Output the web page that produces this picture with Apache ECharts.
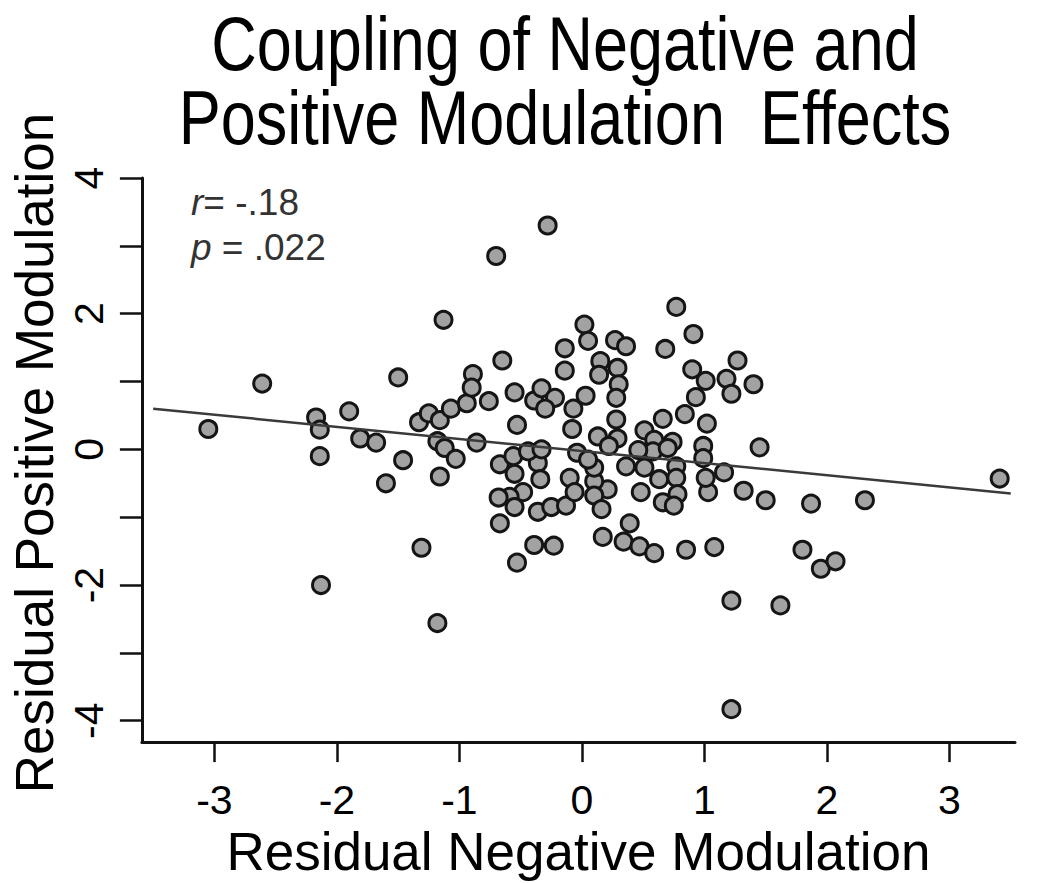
<!DOCTYPE html>
<html><head><meta charset="utf-8">
<script src="https://cdn.jsdelivr.net/npm/echarts@6/dist/echarts.min.js"></script>
<style>html,body{margin:0;padding:0;background:#fff}#c{width:1050px;height:883px}</style>
</head><body><div id="c"></div>
<script>
// Residual Negative Modulation (x) and Residual Positive Modulation (y)
const negMod = [
 -3.05,-2.61,-2.17,-2.14,-2.14,-2.13,-1.90,-1.81,-1.68,-1.60,
 -1.50,-1.46,-1.33,-1.31,-1.25,-1.18,-1.16,-1.16,-1.18,-1.13,
 -1.12,-1.03,-1.07,-0.94,-0.89,-0.90,-0.86,-0.76,-0.70,-0.65,
 -0.55,-0.53,-0.67,-0.56,-0.55,-0.48,-0.59,-0.68,-0.55,-0.67,
 -0.53,-0.39,-0.23,-0.36,-0.34,-0.36,-0.25,-0.13,-0.10,-0.06,
 -0.39,-0.33,-0.22,-0.30,-0.28,-0.14,-0.14,-0.07,-0.08,0.02,
 0.05,-0.04,-0.44,-0.33,0.77,0.91,0.68,0.27,0.36,0.15,
 0.14,0.29,0.30,0.28,0.03,0.90,1.01,1.18,1.27,1.40,
 1.22,0.93,0.84,0.66,1.02,0.28,0.13,0.29,0.51,0.59,
 0.74,1.45,0.99,1.16,1.32,1.50,1.03,1.01,0.99,0.77,
 0.77,0.78,0.66,0.75,0.63,0.51,0.58,0.70,0.48,0.36,
 0.21,0.10,0.10,0.16,0.10,0.39,0.17,0.34,0.47,0.59,
 0.85,1.08,1.22,1.62,1.87,2.31,3.41,1.80,1.95,2.07,
 1.22,0.05,0.46,0.22
];
const posMod = [
 0.30,0.97,0.47,0.29,-0.10,-2.00,0.56,0.16,0.10,-0.50,
 1.06,-0.16,0.40,-1.45,0.53,0.12,0.43,-0.40,-2.56,1.91,
 0.02,-0.14,0.60,0.68,1.11,0.91,0.10,0.71,2.85,1.31,
 0.84,0.36,-0.22,-0.10,-0.36,-0.63,-0.70,-0.71,-0.85,-1.09,
 -1.67,-1.41,-1.42,-0.20,-0.44,-0.92,-0.85,-0.83,-0.42,-0.63,
 0.72,0.90,0.76,0.60,3.30,1.49,1.16,0.60,0.30,1.84,
 1.60,-0.05,-0.03,0.00,2.10,1.70,1.48,1.61,1.52,1.30,
 1.10,1.20,0.96,0.76,0.79,1.18,1.01,1.04,1.31,0.96,
 0.82,0.77,0.52,0.45,0.38,0.44,0.19,0.16,0.28,0.14,
 0.11,0.03,0.05,-0.34,-0.61,-0.75,-0.63,-0.42,-0.13,-0.25,
 -0.42,-0.66,-0.78,-0.83,-0.44,-0.27,-0.03,0.02,-0.63,-0.25,
 -0.59,-0.47,-0.68,-0.88,-0.27,-1.09,-1.29,-1.36,-1.43,-1.53,
 -1.48,-1.44,-2.23,-2.30,-0.80,-0.75,-0.43,-1.48,-1.76,-1.65,
 -3.83,-0.15,-0.01,0.05
];
// regression line end points
const fitX = [-3.5, 3.5];
const fitY = [0.60, -0.65];
const xTicks = [-3, -2, -1, 0, 1, 2, 3];
const yTicks = [-4, -3, -2, -1, 0, 1, 2, 3, 4];
const yLabelTicks = [-4, -2, 0, 2, 4];
const titleLines = ['Coupling of Negative and', 'Positive Modulation  Effects'];
const statR = '-.18';
const statP = '.022';
const xName = 'Residual Negative Modulation';
const yName = 'Residual Positive Modulation';

const FONT = 'Liberation Sans, Arial, sans-serif';
const points = negMod.map((x, i) => [x, posMod[i]]);
const fitLine = fitX.map((x, i) => [x, fitY[i]]);

const titleY = [44, 118];
const chart = echarts.init(document.getElementById('c'), null, {renderer: 'svg'});
chart.setOption({
  animation: false,
  backgroundColor: '#fff',
  graphic: titleLines.map((t, i) => ({
    type: 'text', x: 565, y: titleY[i], scaleX: 1, scaleY: 1.2, silent: true,
    style: {
      text: t, fontSize: 63, fontFamily: FONT, fill: '#000',
      align: 'center', verticalAlign: 'middle', textAlign: 'center', textVerticalAlign: 'middle'
    }
  })),
  title: [
    {
      text: '{i|r}{n|= ' + statR + '}\n{i|p}{n| = ' + statP + '}',
      left: 186, top: 175,
      textStyle: {
        fontFamily: FONT, fontSize: 37, fontWeight: 'normal', color: '#333', lineHeight: 45,
        rich: {
          i: {fontFamily: FONT, fontSize: 37, fontStyle: 'italic', color: '#333', lineHeight: 45},
          n: {fontFamily: FONT, fontSize: 37, color: '#333', lineHeight: 45}
        }
      }
    }
  ],
  grid: {left: 139, right: 35, top: 178, bottom: 130, containLabel: false},
  xAxis: {
    type: 'value', min: -3.592, max: 3.535,
    splitLine: {show: false},
    axisLine: {show: true, onZero: false, lineStyle: {color: '#111', width: 3}},
    axisTick: {show: true, length: 20, customValues: xTicks, lineStyle: {color: '#111', width: 2.5}},
    axisLabel: {customValues: xTicks, margin: 37, fontSize: 41, fontFamily: FONT, color: '#000'},
    name: xName, nameLocation: 'middle', nameGap: 71,
    nameTextStyle: {fontSize: 53, fontFamily: FONT, color: '#000'}
  },
  yAxis: {
    type: 'value', min: -4.315, max: 4,
    splitLine: {show: false},
    axisLine: {show: true, onZero: false, lineStyle: {color: '#111', width: 3}},
    axisTick: {show: true, length: 22, customValues: yTicks, lineStyle: {color: '#111', width: 2.5}},
    axisLabel: {customValues: yLabelTicks, rotate: 90, margin: 32, fontSize: 41, fontFamily: FONT, color: '#000'},
    name: yName, nameLocation: 'middle', nameGap: 80,
    nameTextStyle: {fontSize: 53, fontFamily: FONT, color: '#000', padding: [0, 0, 0, 14]}
  },
  series: [
    {
      type: 'scatter', data: points, symbol: 'circle', symbolSize: 17,
      itemStyle: {color: '#a2a2a2', borderColor: '#151515', borderWidth: 3, opacity: 1},
      z: 2
    },
    {
      type: 'line', data: fitLine, symbol: 'none', silent: true,
      lineStyle: {color: '#3a3a3a', width: 2.5}, z: 3
    }
  ]
});
</script></body></html>
